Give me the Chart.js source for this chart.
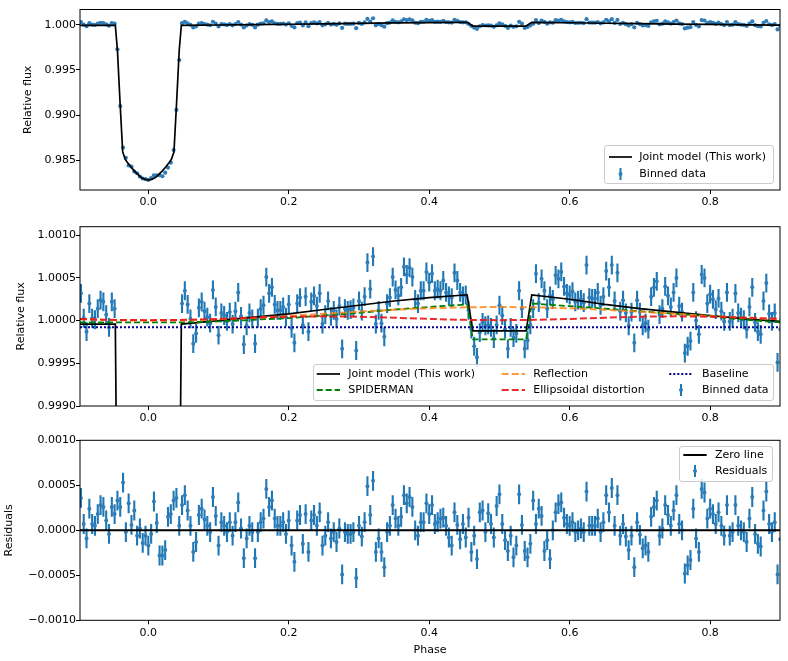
<!DOCTYPE html>
<html><head><meta charset="utf-8">
<script src="https://cdn.jsdelivr.net/npm/chart.js@4.4.1/dist/chart.umd.min.js"></script>
<style>
body{margin:0;background:#fff;width:788px;height:661px;overflow:hidden;position:relative;font-family:"DejaVu Sans",sans-serif;}
canvas{position:absolute;left:0;}
.leg{position:absolute;border:1px solid #cccccc;border-radius:3px;background:rgba(255,255,255,0.8);box-sizing:border-box;}
.lt{position:absolute;font-size:11px;line-height:14px;white-space:nowrap;color:#000;}
svg.ov{position:absolute;left:0;top:0;overflow:visible;}
</style></head><body>
<canvas id="c1" width="788" height="215" style="top:0px"></canvas>
<canvas id="c2" width="788" height="210" style="top:215px"></canvas>
<canvas id="c3" width="788" height="236" style="top:425px"></canvas>

<div class="leg" style="left:604px;top:145px;width:170px;height:39px"></div>
<div class="leg" style="left:312.7px;top:364.3px;width:461.3px;height:36.7px"></div>
<div class="leg" style="left:679.3px;top:445.7px;width:94px;height:36.3px"></div>

<svg class="ov" width="788" height="661">
  <line x1="609" y1="157" x2="632" y2="157" stroke="#000" stroke-width="1.7"/>
  <line x1="620.5" y1="168" x2="620.5" y2="180" stroke="#1f77b4" stroke-width="2"/>
  <circle cx="620.5" cy="174" r="2" fill="#2f7db8"/>

  <line x1="316.7" y1="374" x2="340" y2="374" stroke="#000" stroke-width="1.7"/>
  <line x1="316.7" y1="390" x2="340" y2="390" stroke="#008000" stroke-width="1.8" stroke-dasharray="6,3"/>
  <line x1="501.7" y1="374" x2="525" y2="374" stroke="rgba(255,127,14,0.8)" stroke-width="2" stroke-dasharray="7,3"/>
  <line x1="501.7" y1="390" x2="525" y2="390" stroke="rgba(235,20,20,0.9)" stroke-width="2" stroke-dasharray="7,3"/>
  <line x1="669.3" y1="374" x2="692.7" y2="374" stroke="#00008b" stroke-width="2" stroke-dasharray="2,2"/>
  <line x1="681" y1="384" x2="681" y2="396" stroke="#1f77b4" stroke-width="2"/>
  <circle cx="681" cy="390" r="2" fill="#2f7db8"/>

  <line x1="683.3" y1="455" x2="706.7" y2="455" stroke="#000" stroke-width="2"/>
  <line x1="695" y1="465" x2="695" y2="477" stroke="#1f77b4" stroke-width="2"/>
  <circle cx="695" cy="471" r="2" fill="#2f7db8"/>
</svg>

<span class="lt" style="left:639.3px;top:150px">Joint model (This work)</span>
<span class="lt" style="left:639.3px;top:167px">Binned data</span>

<span class="lt" style="left:348.3px;top:367px">Joint model (This work)</span>
<span class="lt" style="left:348.3px;top:383px">SPIDERMAN</span>
<span class="lt" style="left:533.3px;top:367px">Reflection</span>
<span class="lt" style="left:533.3px;top:383px">Ellipsoidal distortion</span>
<span class="lt" style="left:702px;top:367px">Baseline</span>
<span class="lt" style="left:702px;top:383px">Binned data</span>

<span class="lt" style="left:715px;top:448px">Zero line</span>
<span class="lt" style="left:715px;top:464px">Residuals</span>

<script>
// ---------- DATA ----------
// bin centres: phase bins of width 0.004 starting at -0.096 (250 bins)
const phaseStart = -0.096;
const phaseStep = 0.004;
const nBins = 250;
const phases = Array.from({length: nBins}, (_, i) => +(phaseStart + i * phaseStep).toFixed(3));

// binned relative flux, (flux - 1) in ppm
const fluxPpm = [
320,30,-130,200,30,10,140,240,220,70,
-80,220,140,-2700,-9000,-13620,-14760,-15600,-15730,-16280,
-16470,-16840,-17050,-17120,-17220,-17000,-16700,-16700,-16680,-16800,
-16400,-15850,-15300,-13890,-9440,-3890,200,350,190,20,
-270,-150,150,220,110,40,-30,360,160,-170,
90,60,-10,100,-40,110,330,50,-280,-60,
90,20,-270,30,140,180,510,320,390,190,
120,120,160,40,190,-90,-260,200,270,-50,
280,-130,220,290,170,320,-40,70,230,50,
120,20,170,-330,140,120,130,150,-350,230,
110,280,680,370,750,-40,120,-30,-190,200,
270,510,360,290,390,630,540,620,510,250,
200,350,350,570,450,550,350,370,350,470,
330,290,270,560,470,330,290,300,120,-100,
-300,-430,-140,-20,-60,-50,-80,-210,-50,180,
60,-100,-330,-80,-200,-150,350,140,-330,-230,
-50,140,550,210,490,350,140,290,250,530,
490,570,400,320,300,340,220,240,250,210,
650,270,260,260,330,180,280,580,390,650,
230,560,110,240,90,-60,100,-260,240,100,
-60,-30,-100,280,390,460,70,140,400,290,
160,330,500,170,100,-380,-300,-240,330,0,
-160,540,500,200,310,250,130,260,110,-10,
330,-10,30,320,90,40,10,-100,160,390,
-20,-130,-160,230,440,80,-10,90,-490,-100];

// residuals in ppm
const residualPpm = [
360,70,-90,240,70,50,180,280,260,110,
-40,260,180,330,260,530,-20,300,60,220,
-60,20,-140,-60,-170,-40,320,80,-280,-280,
-220,150,180,330,360,50,280,390,220,50,
-240,-130,170,240,120,50,-20,370,160,-170,
90,50,-20,90,-60,90,310,20,-310,-90,
50,-20,-310,-20,90,130,460,260,330,130,
50,50,90,-40,110,-170,-350,110,170,-150,
180,-240,110,170,50,200,-170,-60,90,-90,
-20,-130,20,-490,-20,-40,-40,-20,-530,50,
-70,90,490,170,550,-240,-90,-240,-410,-20,
50,280,130,50,150,390,300,370,260,0,
-60,90,90,300,180,280,70,90,130,140,
50,-80,-170,200,60,-100,70,-80,140,-240,
-60,-320,200,220,-20,190,70,-80,270,400,
70,-110,-230,-60,-300,-170,400,60,-230,-300,
-150,330,70,240,160,-230,-110,-320,0,200,
290,310,140,70,50,90,-20,0,20,-20,
430,50,50,50,130,-20,90,390,200,470,
50,390,-60,70,-70,-220,-60,-410,90,-50,
-200,-170,-240,150,260,330,-60,20,280,170,
50,220,390,70,0,-480,-390,-330,240,-90,
-240,460,420,130,240,180,70,200,50,-60,
280,-60,-20,280,50,0,-20,-130,130,370,
-40,-150,-180,220,430,70,-20,90,-490,-100];

// 1-sigma error of each binned point, ppm
const errorPpm = 110;

// model curves (phase nodes, (flux - 1) in ppm)
const jointPhase = [-0.0973,-0.047,-0.044,-0.040,-0.0365,-0.033,-0.030,-0.025,-0.020,-0.015,-0.010,-0.005,0.0,0.005,0.010,0.015,0.020,0.025,0.030,0.033,0.0365,0.040,0.044,0.047,0.1,0.15,0.2,0.25,0.3,0.35,0.4,0.45,0.454,0.462,0.538,0.546,0.6,0.65,0.7,0.75,0.8,0.85,0.8995];
const jointPpm   = [-40,-40,-2800,-9000,-14100,-14900,-15250,-15750,-16200,-16600,-16950,-17150,-17200,-17150,-16950,-16600,-16200,-15750,-15250,-14900,-14100,-9000,-2800,-40,0,40,80,130,180,230,270,300,300,-120,-120,300,250,190,140,100,60,20,-10];

const spiderPhase = [-0.0973,0.05,0.1,0.15,0.2,0.25,0.3,0.35,0.4,0.454,0.462,0.538,0.546,0.6,0.65,0.7,0.75,0.8,0.85,0.8995];
const spiderPpm   = [-20,-20,-10,10,30,60,90,130,160,190,-220,-220,200,170,140,110,80,50,10,-20];

const curvePhase = [-0.0973,-0.05,0,0.05,0.1,0.15,0.2,0.25,0.3,0.35,0.4,0.45,0.5,0.55,0.6,0.65,0.7,0.75,0.8,0.85,0.8995];
const reflectionPpm  = [15,4,0,4,15,33,55,80,105,127,145,156,160,156,145,127,105,80,55,33,15];
const ellipsoidalPpm = [20,9,5,9,20,34,46,50,46,34,20,9,5,9,20,34,46,50,46,34,20];

const baselinePhase = [-0.0973, 0.8995];
const baselinePpm = [-78, -78];
const zeroLine = [0, 0];

// axis ticks
const xTicks = [0.0, 0.2, 0.4, 0.6, 0.8];
const yTicksTop = [0.985, 0.990, 0.995, 1.000];
const yTicksMid = [0.9990, 0.9995, 1.0000, 1.0005, 1.0010];
const yTicksRes = [-0.0010, -0.0005, 0.0, 0.0005, 0.0010];

// ---------- CHARTS ----------
const xMin = -0.0973, xMax = 0.8995;
const BAR = '#1f77b4', DOT = '#2f7db8';
Chart.defaults.font.family = "'DejaVu Sans', sans-serif";
Chart.defaults.font.size = 11;
Chart.defaults.color = '#000';

const toPts = (ph, ppm, base) => ph.map((p, i) => ({x: p, y: base + ppm[i] * 1e-6}));
function errSegs(ph, ppm, base) {
  const out = [];
  ph.forEach((p, i) => {
    const c = base + ppm[i] * 1e-6;
    out.push({x: p, y: c - errorPpm * 1e-6}, {x: p, y: c + errorPpm * 1e-6}, {x: p, y: null});
  });
  return out;
}
function lineDs(data, color, width, dash) {
  return {type: 'line', data, borderColor: color, borderWidth: width, borderDash: dash || [],
          pointRadius: 0, pointHoverRadius: 0, fill: false, tension: 0, spanGaps: false};
}
function pointDs(data, r) {
  return {type: 'scatter', data, pointRadius: r, pointHoverRadius: r, backgroundColor: DOT,
          borderColor: DOT, borderWidth: 0, showLine: false};
}
function fmt(v, dec) {
  const s = Math.abs(v) < 1e-12 ? (0).toFixed(dec) : v.toFixed(dec);
  return s.replace('-', '\u2212');
}
function axisX(title, height, padBottom) {
  return {
    type: 'linear', min: xMin, max: xMax, offset: false,
    afterBuildTicks(s) { s.ticks = xTicks.map(v => ({value: v})); },
    afterFit(s) { s.height = height; },
    ticks: {callback: v => fmt(v, 1), maxRotation: 0, autoSkip: false, padding: 2, color: '#000', font: {size: 11}},
    grid: {display: true, drawOnChartArea: false, drawTicks: true, tickLength: 4, tickColor: '#000', tickWidth: 1},
    border: {display: false},
    title: title ? {display: true, text: title, color: '#000', font: {size: 11}, padding: {top: 0, bottom: padBottom}} : {display: false}
  };
}
function axisY(min, max, ticksArr, dec, title, padTop) {
  return {
    type: 'linear', min, max,
    afterBuildTicks(s) { s.ticks = ticksArr.map(v => ({value: v})); },
    afterFit(s) { s.width = 80; },
    ticks: {callback: v => fmt(v, dec), padding: 0, autoSkip: false, color: '#000', font: {size: 11}},
    grid: {display: true, drawOnChartArea: false, drawTicks: true, tickLength: 4, tickColor: '#000', tickWidth: 1},
    border: {display: false},
    title: {display: true, text: title, color: '#000', font: {size: 11}, padding: {top: padTop, bottom: 0}}
  };
}
const framePlugin = {
  id: 'frame',
  afterDatasetsDraw(chart) {
    const {ctx, chartArea: a} = chart;
    ctx.save();
    ctx.strokeStyle = '#000';
    ctx.lineWidth = 1;
    ctx.strokeRect(a.left, a.top, a.right - a.left, a.bottom - a.top);
    ctx.restore();
  }
};
function opts(padTop, x, y) {
  return {
    responsive: false, animation: false, events: [],
    layout: {padding: {top: padTop, right: 8, left: 0, bottom: 0}},
    plugins: {legend: {display: false}, tooltip: {enabled: false}},
    scales: {x, y}
  };
}

// Panel 1: full light curve
new Chart(document.getElementById('c1'), {
  type: 'scatter',
  data: {datasets: [
    lineDs(toPts(jointPhase, jointPpm, 1), '#000', 1.7),
    pointDs(toPts(phases, fluxPpm, 1), 2.1),
    lineDs(errSegs(phases, fluxPpm, 1), BAR, 2)
  ]},
  options: opts(9.5, axisX(null, 25, 0), axisY(0.98167, 1.00172, yTicksTop, 3, 'Relative flux', 21.1)),
  plugins: [framePlugin]
});

// Panel 2: zoom on phase curve with components
new Chart(document.getElementById('c2'), {
  type: 'scatter',
  data: {datasets: [
    lineDs(toPts(baselinePhase, baselinePpm, 1), '#00008b', 2, [2, 2]),
    lineDs(toPts(curvePhase, ellipsoidalPpm, 1), 'rgba(235,20,20,0.9)', 2, [7, 3]),
    lineDs(toPts(curvePhase, reflectionPpm, 1), 'rgba(255,127,14,0.8)', 2, [7, 3]),
    lineDs(toPts(spiderPhase, spiderPpm, 1), '#008000', 1.8, [6, 3]),
    lineDs(toPts(jointPhase, jointPpm, 1), '#000', 1.7),
    pointDs(toPts(phases, fluxPpm, 1), 2),
    lineDs(errSegs(phases, fluxPpm, 1), BAR, 2.1)
  ]},
  options: opts(11.7, axisX(null, 19, 0), axisY(0.9990, 1.0011, yTicksMid, 4, 'Relative flux', 14.2)),
  plugins: [framePlugin]
});

// Panel 3: residuals
new Chart(document.getElementById('c3'), {
  type: 'scatter',
  data: {datasets: [
    lineDs(toPts(baselinePhase, zeroLine, 0), '#000', 2),
    pointDs(toPts(phases, residualPpm, 0), 2),
    lineDs(errSegs(phases, residualPpm, 0), BAR, 2.1)
  ]},
  options: opts(15.3, axisX('Phase', 40.7, 4.4), axisY(-0.0010, 0.0010, yTicksRes, 4, 'Residuals', 2.4)),
  plugins: [framePlugin]
});
</script>
</body></html>
